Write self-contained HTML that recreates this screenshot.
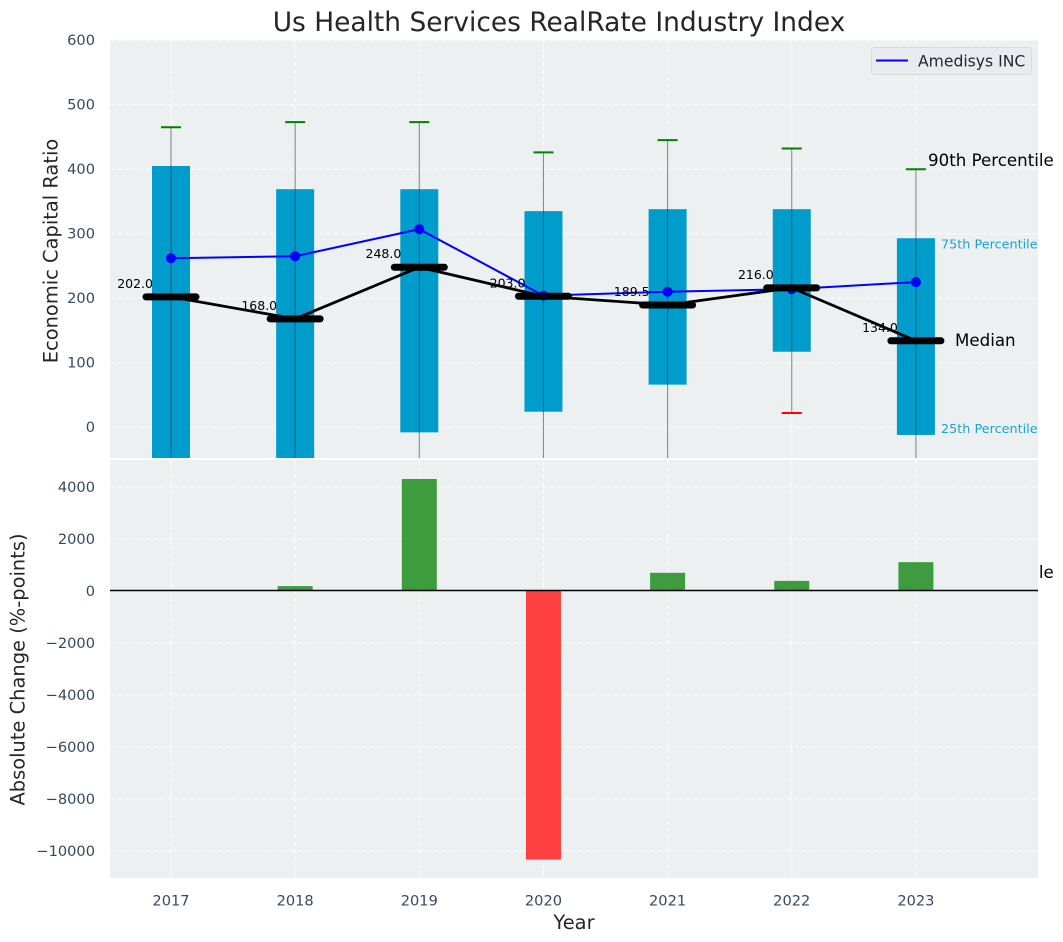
<!DOCTYPE html>
<html lang="en">
<head>
<meta charset="utf-8">
<title>Us Health Services RealRate Industry Index</title>
<style>
html,body{margin:0;padding:0;background:#fff;width:1063px;height:942px;overflow:hidden}
svg{display:block;font-family:"DejaVu Sans","Liberation Sans",sans-serif}
</style>
</head>
<body>
<svg id="chart" width="1063" height="942" viewBox="0 0 1063 942" xmlns="http://www.w3.org/2000/svg">
<defs><clipPath id="top-clip"><rect x="110" y="40" width="928" height="418"/></clipPath></defs>
<g id="top-axes"></g>
<g id="bottom-axes"></g>
<text x="559" y="31" font-size="26.45" fill="#262626" text-anchor="middle">Us Health Services RealRate Industry Index</text>
<text transform="translate(57.5,251) rotate(-90)" font-size="19.44" fill="#262626" text-anchor="middle">Economic Capital Ratio</text>
<text transform="translate(24.5,669.5) rotate(-90)" font-size="19.44" fill="#262626" text-anchor="middle">Absolute Change (%-points)</text>
<text x="574" y="929" font-size="19.44" fill="#262626" text-anchor="middle">Year</text>
</svg>
<script>
const years = [2017, 2018, 2019, 2020, 2021, 2022, 2023];
const q3Values = [405, 369, 369, 335, 338, 338, 293];
const q1Values = [-120, -110, -8, 24, 66, 117, -12];
const p90Values = [465, 473, 473, 426, 445, 432, 400];
const p10Values = [-190, -180, -160, -170, -150, 22, -200];
const medianValues = [202, 168, 248, 203, 189.5, 216, 134];
const medianLabels = ['202.0', '168.0', '248.0', '203.0', '189.5', '216.0', '134.0'];
const companyValues = [262, 265, 307, 204, 210, 214, 225];
const changeValues = [0, 170, 4290, -10350, 680, 370, 1090];
const topTicks = [0, 100, 200, 300, 400, 500, 600];
const bottomTicks = [-10000, -8000, -6000, -4000, -2000, 0, 2000, 4000];
const bottomTickLabels = ['\u221210000', '\u22128000', '\u22126000', '\u22124000', '\u22122000', '0', '2000', '4000'];

const NS = 'http://www.w3.org/2000/svg';
const L = 110, R = 1038, T1 = 40, B1 = 458, T2 = 460, B2 = 878;
const xOf = function (year) { return 171 + (year - 2017) * 124.15; };
const yTop = function (v) { return 427.2 - v * 0.645; };
const yBottom = function (v) { return 590.5 - v * 0.026; };
const topAxes = document.getElementById('top-axes');
const bottomAxes = document.getElementById('bottom-axes');

function make(parent, tag, attrs, text) {
  const el = document.createElementNS(NS, tag);
  for (const k in attrs) el.setAttribute(k, attrs[k]);
  if (text !== undefined) el.textContent = text;
  parent.appendChild(el);
  return el;
}
function gridStyle() {
  return { stroke: '#ffffff', 'stroke-width': 1.1, 'stroke-dasharray': '5 2.2', 'stroke-opacity': 0.8 };
}

/* top panel */
const topBg = make(topAxes, 'rect', { x: L, y: T1, width: R - L, height: B1 - T1, fill: '#ecf0f1' });



topTicks.forEach(function (t) {
  const y = yTop(t);
  const g = make(topAxes, 'line', Object.assign({ x1: L, x2: R, y1: y, y2: y }, gridStyle()));
  
  
  const lab = make(topAxes, 'text', { x: 95, y: y + 5, 'font-size': 14.6, fill: '#34495e', 'text-anchor': 'end' }, String(t));
  
  
});
years.forEach(function (yr) {
  const x = xOf(yr);
  const g = make(topAxes, 'line', Object.assign({ x1: x, x2: x, y1: T1, y2: B1 }, gridStyle()));
  
  
});

const clipped = make(topAxes, 'g', { 'clip-path': 'url(#top-clip)' });



years.forEach(function (yr, i) {
  const x = xOf(yr);
  const box = make(clipped, 'rect', { x: x - 19, y: yTop(q3Values[i]), width: 38, height: yTop(q1Values[i]) - yTop(q3Values[i]), fill: '#009ccc' });
  
  
  const wh = make(clipped, 'line', { x1: x, x2: x, y1: yTop(p90Values[i]), y2: yTop(p10Values[i]), stroke: '#333333', 'stroke-opacity': 0.55, 'stroke-width': 1.1 });
  
  
  const capHigh = make(clipped, 'line', { x1: x - 10, x2: x + 10, y1: yTop(p90Values[i]), y2: yTop(p90Values[i]), stroke: '#008000', 'stroke-width': 2 });
  
  
  const capLow = make(clipped, 'line', { x1: x - 10, x2: x + 10, y1: yTop(p10Values[i]), y2: yTop(p10Values[i]), stroke: '#ff0000', 'stroke-width': 2 });
  
  
});

const companyPts = years.map(function (yr, i) { return xOf(yr) + ',' + yTop(companyValues[i]); }).join(' ');
const companyLine = make(clipped, 'polyline', { points: companyPts, fill: 'none', stroke: '#0000ff', 'stroke-width': 2 });


years.forEach(function (yr, i) {
  const pt = make(clipped, 'circle', { cx: xOf(yr), cy: yTop(companyValues[i]), r: 5, fill: '#0000ff' });
  
  
});

const medianPts = years.map(function (yr, i) { return xOf(yr) + ',' + yTop(medianValues[i]); }).join(' ');
const medianLine = make(clipped, 'polyline', { points: medianPts, fill: 'none', stroke: '#000000', 'stroke-width': 2.8 });


years.forEach(function (yr, i) {
  const x = xOf(yr);
  const y = yTop(medianValues[i]);
  const bar = make(clipped, 'line', { x1: x - 25, x2: x + 25, y1: y, y2: y, stroke: '#000000', 'stroke-width': 7, 'stroke-linecap': 'round' });
  
  
  const lab = make(topAxes, 'text', { x: x - 18, y: y - 9, 'font-size': 12.5, fill: '#000000', 'text-anchor': 'end' }, medianLabels[i]);
  
  
});

const p90Text = make(topAxes, 'text', { x: 928, y: 166, 'font-size': 16.67, fill: '#000000' }, '90th Percentile');


const p10Text = make(topAxes, 'text', { x: 928, y: 578, 'font-size': 16.67, fill: '#000000' }, '10th Percentile');


const medText = make(topAxes, 'text', { x: 955, y: 346, 'font-size': 16.67, fill: '#000000' }, 'Median');


const p75Text = make(topAxes, 'text', { x: 941, y: 248.5, 'font-size': 12.8, fill: '#1ba3d1' }, '75th Percentile');


const p25Text = make(topAxes, 'text', { x: 941, y: 433, 'font-size': 12.8, fill: '#1ba3d1' }, '25th Percentile');



/* legend */
const legend = make(topAxes, 'g', {});


make(legend, 'rect', { x: 871.5, y: 47.5, width: 160, height: 27, rx: 2.5, fill: '#e9ebf1', stroke: '#d8dadd', 'stroke-width': 1 });
const legendLine = make(legend, 'line', { x1: 876, x2: 908, y1: 60.5, y2: 60.5, stroke: '#0000ff', 'stroke-width': 2 });


const legendText = make(legend, 'text', { x: 918, y: 66.5, 'font-size': 15.6, fill: '#262626' }, 'Amedisys INC');



/* bottom panel */
const bottomBg = make(bottomAxes, 'rect', { x: L, y: T2, width: R - L, height: B2 - T2, fill: '#ecf0f1' });



bottomTicks.forEach(function (t, i) {
  const y = yBottom(t);
  const g = make(bottomAxes, 'line', Object.assign({ x1: L, x2: R, y1: y, y2: y }, gridStyle()));
  
  
  const lab = make(bottomAxes, 'text', { x: 95, y: y + 5.5, 'font-size': 14.6, fill: '#34495e', 'text-anchor': 'end' }, bottomTickLabels[i]);
  
  
});
years.forEach(function (yr, i) {
  const x = xOf(yr);
  const g = make(bottomAxes, 'line', Object.assign({ x1: x, x2: x, y1: T2, y2: B2 }, gridStyle()));
  
  
  const v = changeValues[i];
  const bar = make(bottomAxes, 'rect', { x: x - 17.5, y: Math.min(yBottom(v), yBottom(0)), width: 35, height: Math.abs(yBottom(v) - yBottom(0)), fill: v >= 0 ? '#3d9c3e' : '#ff4040' });
  
  
  const lab = make(bottomAxes, 'text', { x: x, y: 905.5, 'font-size': 14.6, fill: '#34495e', 'text-anchor': 'middle' }, String(yr));
  
  
});
const zeroLine = make(bottomAxes, 'line', { x1: L, x2: R, y1: yBottom(0), y2: yBottom(0), stroke: '#000000', 'stroke-width': 1.4 });


</script>
</body>
</html>
